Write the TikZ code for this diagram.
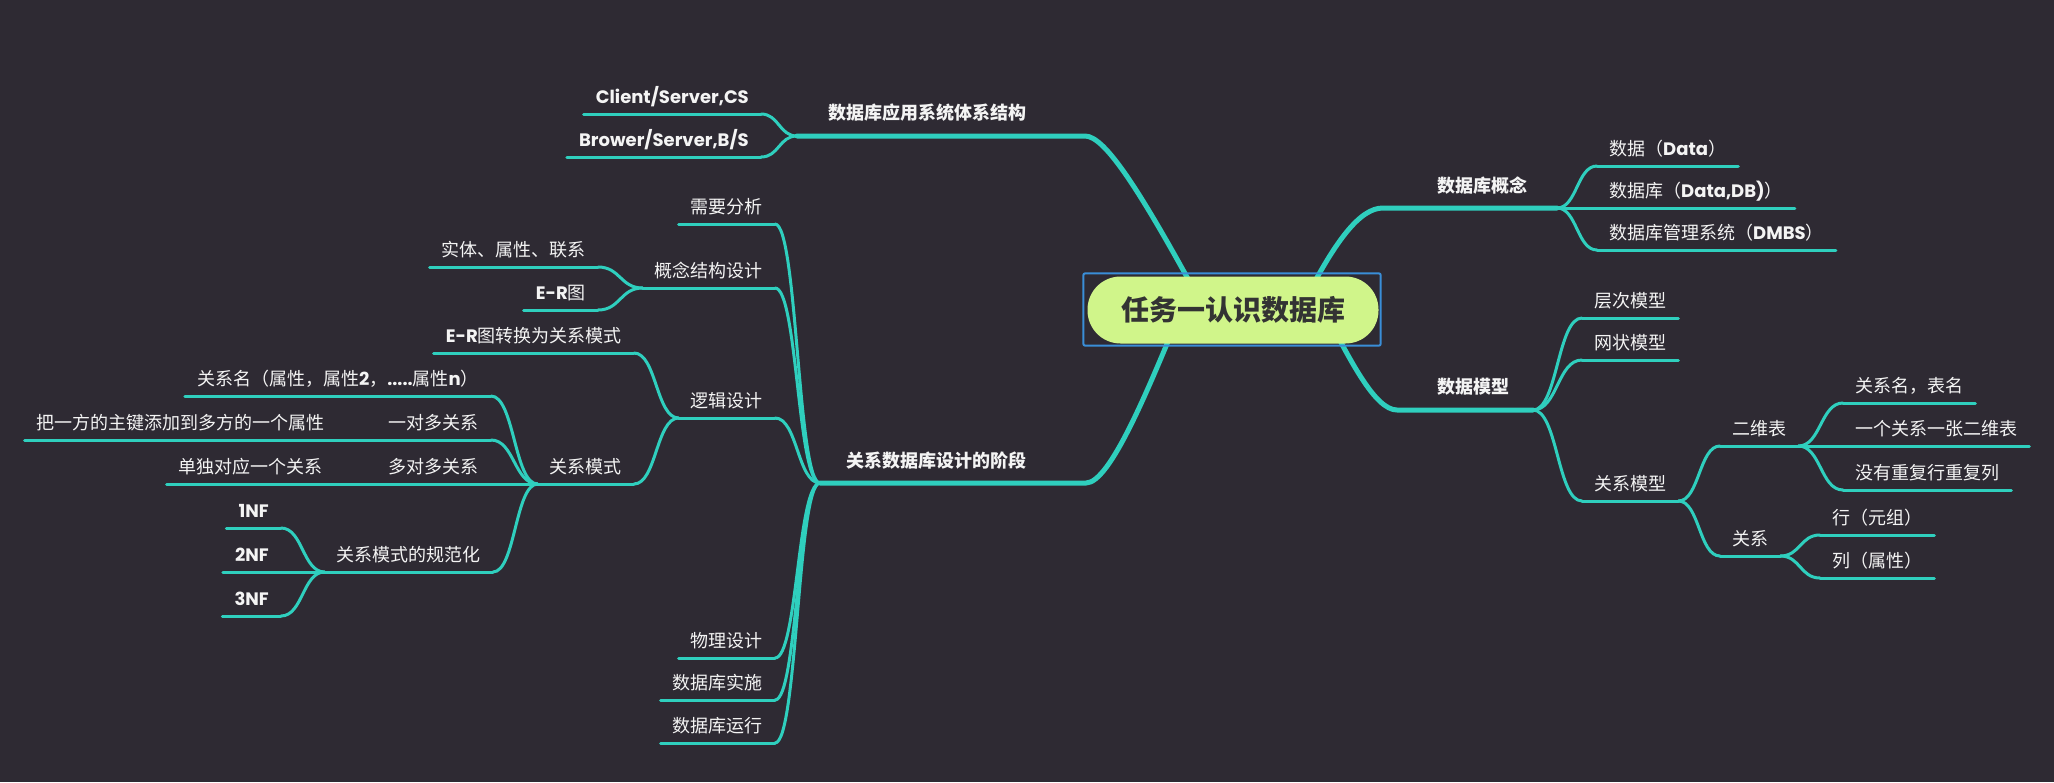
\documentclass[tikz,border=0pt]{standalone}
\usepackage{fontspec}
\setmainfont{Noto Sans CJK SC}
\newfontfamily\latfont{Poppins}
\newcommand\en[1]{{\latfont\bfseries #1}}
\usetikzlibrary{calc}
\definecolor{bgdark}{HTML}{2E2A33}
\definecolor{branch}{HTML}{2FCFBE}
\definecolor{rootfill}{HTML}{D0F58A}
\definecolor{rootink}{HTML}{333333}
\definecolor{selblue}{HTML}{3A8ED8}
\definecolor{ink}{HTML}{F4F4F4}
\pgfdeclarelayer{back}
\pgfdeclarelayer{lines}
\pgfsetlayers{back,lines,main}

\begin{document}
\begin{tikzpicture}[
  x=1pt, y=-1pt,
  root/.style={fill=rootfill, text=rootink, rounded corners=33pt, minimum width=291pt, minimum height=67pt, font=\fontsize{28}{32}\selectfont\bfseries},
  mainbr/.style={text=ink, font=\fontsize{18}{22}\selectfont\bfseries},
  sub/.style={text=ink, font=\fontsize{18}{22}\selectfont, inner xsep=12pt, inner ysep=2pt, text height=14pt, text depth=8pt},
  subr/.style={sub, anchor=south west},
  subl/.style={sub, anchor=south east},
  trunk/.style={draw=branch, line width=5pt, line cap=round},
  ul/.style={draw=branch, line width=3pt, line cap=round},
  link/.style={to path={let \p1=(\tikztostart), \p2=(\tikztotarget) in
    .. controls ({(\x1+\x2)/2},\y1) and ({(\x1+\x2)/2},\y2) .. (\tikztotarget)}}
]
  \useasboundingbox (0,0) rectangle (2054,782);

  \node[root] (root) at (1233,310) {任务一认识数据库};
  \node[mainbr] (arch) at (927,113) {数据库应用系统体系结构};
  \node[mainbr] (concept) at (1482,186) {数据库概念};
  \node[mainbr] (model) at (1473,387) {数据模型};
  \node[mainbr] (stage) at (936,461) {关系数据库设计的阶段};

  \coordinate (arch-l) at (797,136);
  \coordinate (arch-r) at (1085,136);
  \coordinate (concept-l) at (1383,208);
  \coordinate (concept-r) at (1557,208);
  \coordinate (model-l) at (1397,410);
  \coordinate (model-r) at (1533,410);
  \coordinate (stage-l) at (820,483);
  \coordinate (stage-r) at (1086,483);

  % right side
  \node[subr] (c-data) at (1597,166) {数据（\en{Data}）};
  \node[subr] (c-db) at (1597,208) {数据库（\en{Data,DB)}）};
  \node[subr] (c-dbms) at (1597,250) {数据库管理系统（\en{DMBS}）};
  \node[subr] (m-hier) at (1582,318) {层次模型};
  \node[subr] (m-net) at (1582,360) {网状模型};
  \node[subr] (m-rel) at (1582,501) {关系模型};
  \node[subr] (m-table) at (1720,446) {二维表};
  \node[subr] (m-relation) at (1720,556) {关系};
  \node[subr] (t-name) at (1843,403) {关系名，表名};
  \node[subr] (t-one) at (1843,446) {一个关系一张二维表};
  \node[subr] (t-nodup) at (1843,490) {没有重复行重复列};
  \node[subr] (r-row) at (1820,535) {行（元组）};
  \node[subr] (r-col) at (1820,578) {列（属性）};

  % left side
  \node[subl] (a-cs) at (761,114) {\en{Client/Server,CS}};
  \node[subl] (a-bs) at (761,157) {\en{Brower/Server,B/S}};
  \node[subl] (s-req) at (775,224) {需要分析};
  \node[subl] (s-concept) at (775,288) {概念结构设计};
  \node[subl] (s-erel) at (598,267) {实体、属性、联系};
  \node[subl] (s-er) at (598,310) {\en{E-R}图};
  \node[subl] (s-logic) at (775,418) {逻辑设计};
  \node[subl] (s-conv) at (634,353) {\en{E-R}图转换为关系模式};
  \node[subl] (s-mode) at (634,484) {关系模式};
  \node[subl] (s-rname) at (491,396) {关系名（属性，属性\en{2}，\en{.....}属性\en{n}）};
  \node[subl] (s-one) at (491,440) {一对多关系};
  \node[subl] (s-onekey) at (337,440) {把一方的主键添加到多方的一个属性};
  \node[subl] (s-many) at (491,484) {多对多关系};
  \node[subl] (s-single) at (335,484) {单独对应一个关系};
  \node[subl] (s-norm) at (493,572) {关系模式的规范化};
  \node[subl] (s-1nf) at (281,528) {\en{1NF}};
  \node[subl] (s-2nf) at (281,572) {\en{2NF}};
  \node[subl] (s-3nf) at (281,616) {\en{3NF}};
  \node[subl] (s-phys) at (775,658) {物理设计};
  \node[subl] (s-impl) at (775,700) {数据库实施};
  \node[subl] (s-run) at (775,743) {数据库运行};

  \begin{pgfonlayer}{back}
    \fill[bgdark] (0,0) rectangle (2054,782);
  \end{pgfonlayer}

  \begin{pgfonlayer}{lines}
    \draw[trunk] (arch-l) -- (arch-r) .. controls (1105,136) and (1140,190) .. ([xshift=-28pt]root.center);
    \draw[trunk] (concept-r) -- (concept-l) .. controls (1360,208) and (1335,240) .. ([xshift=67pt]root.center);
    \draw[trunk] (model-r) -- (model-l) .. controls (1375,410) and (1350,360) .. ([xshift=91pt]root.center);
    \draw[trunk] (stage-l) -- (stage-r) .. controls (1110,483) and (1148,390) .. ([xshift=-52pt]root.center);

    \foreach \k in {a-cs,a-bs}
      \draw[ul] (arch-l) to[link] (\k.south east);
    \foreach \k in {c-data,c-db,c-dbms}
      \draw[ul] (concept-r) to[link] (\k.south west);
    \foreach \k in {m-hier,m-net,m-rel}
      \draw[ul] (model-r) to[link] (\k.south west);
    \foreach \k in {m-table,m-relation}
      \draw[ul] (m-rel.south east) to[link] (\k.south west);
    \foreach \k in {t-name,t-one,t-nodup}
      \draw[ul] (m-table.south east) to[link] (\k.south west);
    \foreach \k in {r-row,r-col}
      \draw[ul] (m-relation.south east) to[link] (\k.south west);
    \foreach \k in {s-req,s-concept,s-logic,s-phys,s-impl,s-run}
      \draw[ul] (stage-l) to[link] (\k.south east);
    \foreach \k in {s-erel,s-er}
      \draw[ul] (s-concept.south west) to[link] (\k.south east);
    \foreach \k in {s-conv,s-mode}
      \draw[ul] (s-logic.south west) to[link] (\k.south east);
    \foreach \k in {s-rname,s-one,s-many,s-norm}
      \draw[ul] (s-mode.south west) to[link] (\k.south east);
    \draw[ul] (s-one.south west) to[link] (s-onekey.south east);
    \draw[ul] (s-many.south west) to[link] (s-single.south east);
    \foreach \k in {s-1nf,s-2nf,s-3nf}
      \draw[ul] (s-norm.south west) to[link] (\k.south east);

    \foreach \k in {c-data,c-db,c-dbms,m-hier,m-net,m-rel,m-table,m-relation,t-name,t-one,t-nodup,r-row,r-col,
      a-cs,a-bs,s-req,s-concept,s-erel,s-er,s-logic,s-conv,s-mode,s-rname,s-one,s-onekey,s-many,s-single,s-norm,s-1nf,s-2nf,s-3nf,s-phys,s-impl,s-run}
      \draw[ul] (\k.south west) -- (\k.south east);
  \end{pgfonlayer}

  \draw[selblue, line width=2pt, rounded corners=2pt] ([xshift=-4pt,yshift=-2pt]root.south west) rectangle ([xshift=2pt,yshift=3pt]root.north east);
\end{tikzpicture}
\end{document}
